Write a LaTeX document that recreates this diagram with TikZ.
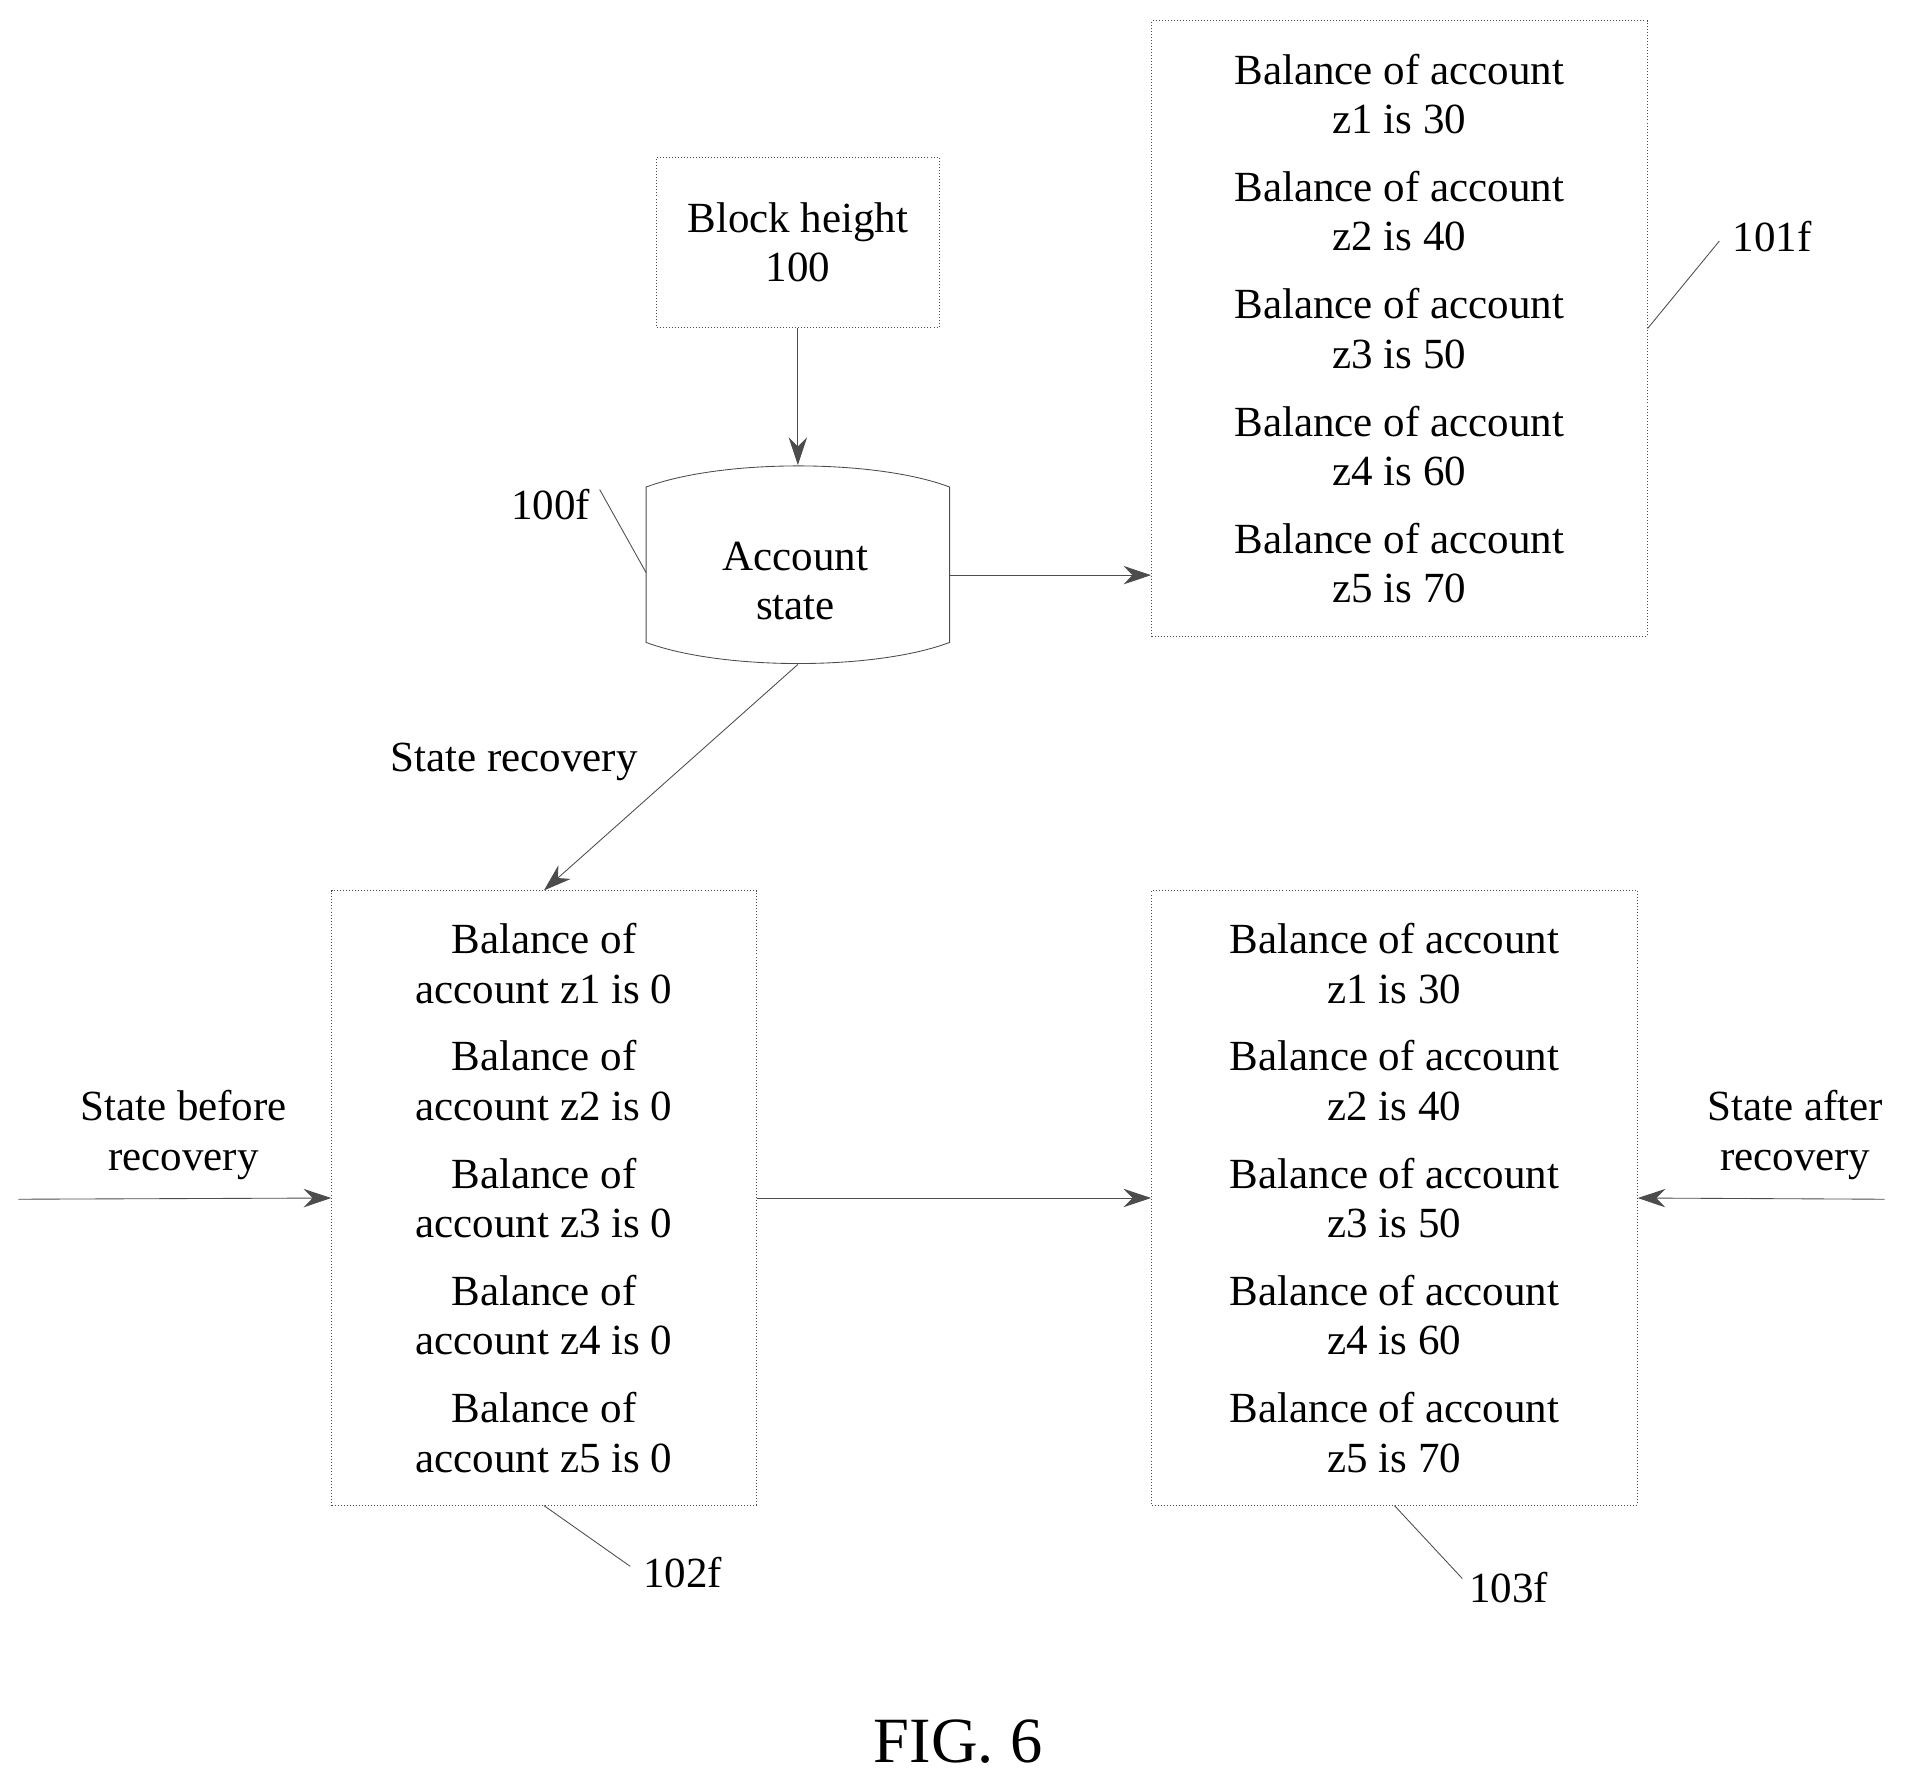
\documentclass[tikz,border=0pt]{standalone}
\usepackage{fontspec}
\setmainfont{Liberation Serif}
\usetikzlibrary{arrows.meta}
\begin{document}
\begin{tikzpicture}[
    box/.style={draw=black!70, thin, densely dotted, inner sep=0pt},
    txt/.style={align=center, font=\fontsize{20}{23}\selectfont},
    arr/.style={draw=black!70, thin, -{Stealth[length=0.45cm,width=0.3cm]}},
    lead/.style={draw=black!70, thin}
]
\useasboundingbox (0,0) rectangle (31.2,29.1);
% Bloque
\node[box, minimum width=4.62cm, minimum height=2.78cm, txt] (blk) at (13.04,25.14) {Block height\\100};
% Cilindro
\draw[black!70, thin] (10.56,21.14) .. controls (11.8,21.6) and (14.3,21.6) .. (15.52,21.14)
    -- (15.52,18.6) .. controls (14.3,18.14) and (11.8,18.14) .. (10.56,18.6) -- cycle;
\node[txt] (acc) at (13.0,19.6) {Account\\state};
\coordinate (acctop) at (13.04,21.5);
\coordinate (accright) at (15.52,19.7);
\coordinate (accbot) at (13.04,18.24);
% Cajas de saldos
\node[box, minimum width=8.1cm, minimum height=10.06cm, txt] (bal1) at (22.87,23.73)
  {Balance of account\\z1 is 30\\[0.3cm]Balance of account\\z2 is 40\\[0.3cm]Balance of account\\z3 is 50\\[0.3cm]Balance of account\\z4 is 60\\[0.3cm]Balance of account\\z5 is 70};
\node[box, minimum width=6.94cm, minimum height=10.04cm, txt] (bal2) at (8.89,9.52)
  {Balance of\\account z1 is 0\\[0.3cm]Balance of\\account z2 is 0\\[0.3cm]Balance of\\account z3 is 0\\[0.3cm]Balance of\\account z4 is 0\\[0.3cm]Balance of\\account z5 is 0};
\node[box, minimum width=7.94cm, minimum height=10.04cm, txt] (bal3) at (22.79,9.52)
  {Balance of account\\z1 is 30\\[0.3cm]Balance of account\\z2 is 40\\[0.3cm]Balance of account\\z3 is 50\\[0.3cm]Balance of account\\z4 is 60\\[0.3cm]Balance of account\\z5 is 70};
% Flechas
\draw[arr] (blk.south) -- (acctop);
\draw[arr] (accright) -- (accright -| bal1.west);
\draw[arr] (accbot) -- (bal2.north);
\draw[arr] (bal2.east) -- (bal3.west);
\coordinate (lin) at (0.3,9.5);
\coordinate (rin) at (30.8,9.5);
\draw[arr] (lin) -- (bal2.west);
\draw[arr] (rin) -- (bal3.east);
% Etiquetas
\node[txt] (rec) at (8.4,16.64) {State recovery};
\node[txt] (before) at (3.0,10.55) {State before\\recovery};
\node[txt] (after) at (29.34,10.55) {State after\\recovery};
\node[txt] (l100) at (9.0,20.86) {100f};
\node[txt] (l101) at (28.96,25.24) {101f};
\node[txt] (l102) at (11.16,3.4) {102f};
\node[txt] (l103) at (24.66,3.16) {103f};
\draw[lead] (9.8,21.1) -- (10.56,19.74);
\draw[lead] (28.1,25.16) -- (bal1.east);
\draw[lead] (bal2.south) -- (10.3,3.5);
\draw[lead] (bal3.south) -- (23.9,3.3);
\node[font=\fontsize{30}{34}\selectfont] (fig) at (15.66,0.64) {FIG. 6};
\end{tikzpicture}
\end{document}
